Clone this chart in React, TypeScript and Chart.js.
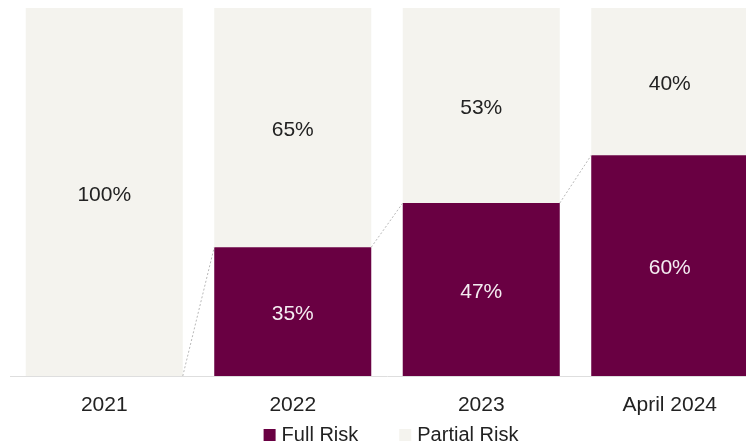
import React, { useEffect, useRef } from "react";
import { Chart, registerables } from "chart.js";

Chart.register(...registerables);

const categories = ["2021", "2022", "2023", "April 2024"];
const fullRisk = [0, 35, 47, 60];
const partialRisk = [100, 65, 53, 40];
const seriesNames = ["Full Risk", "Partial Risk"];

const PURPLE = "#690042";
const LIGHT = "#f4f3ee";
const FONT = "'Liberation Sans', Arial, sans-serif";

const labelPlugin = {
  id: "segLabels",
  afterDatasetsDraw(chart: any) {
    const ctx = chart.ctx;
    ctx.save();
    // dotted connectors between consecutive Full Risk tops
    const m0 = chart.getDatasetMeta(0);
    ctx.strokeStyle = "#b8b8b8";
    ctx.lineWidth = 1;
    ctx.setLineDash([2, 2]);
    for (let i = 0; i < m0.data.length - 1; i++) {
      const a = m0.data[i];
      const b = m0.data[i + 1];
      ctx.beginPath();
      ctx.moveTo(a.x + a.width / 2, a.y);
      ctx.lineTo(b.x - b.width / 2, b.y);
      ctx.stroke();
    }
    ctx.setLineDash([]);
    ctx.font = `21px ${FONT}`;
    ctx.textAlign = "center";
    ctx.textBaseline = "middle";
    chart.data.datasets.forEach((ds: any, di: number) => {
      const meta = chart.getDatasetMeta(di);
      meta.data.forEach((el: any, i: number) => {
        const v = ds.data[i];
        if (!v) return;
        ctx.fillStyle = di === 0 ? "#f4ecf1" : "#222222";
        ctx.fillText(`${v}%`, el.x, (el.y + el.base) / 2 + 3);
      });
    });
    ctx.restore();
  },
  afterDraw(chart: any) {
    const ctx = chart.ctx;
    ctx.save();
    ctx.font = `20px ${FONT}`;
    ctx.textBaseline = "middle";
    ctx.textAlign = "left";
    const box = 12;
    const gapBoxText = 6;
    const gapItems = 41;
    const colors = chart.data.datasets.map((d: any) => d.backgroundColor);
    const widths = seriesNames.map((n) => box + gapBoxText + ctx.measureText(n).width);
    const total = widths.reduce((s, w) => s + w, 0) + gapItems * (seriesNames.length - 1);
    const center = (chart.chartArea.left + chart.chartArea.right) / 2 + 4;
    let x = center - total / 2;
    const y = 435;
    seriesNames.forEach((n, i) => {
      ctx.fillStyle = colors[i];
      ctx.fillRect(x, y - box / 2, box, box);
      ctx.fillStyle = "#222222";
      ctx.fillText(n, x + box + gapBoxText, y);
      x += widths[i] + gapItems;
    });
    ctx.restore();
  },
};

export default function App() {
  const ref = useRef<HTMLCanvasElement>(null);
  useEffect(() => {
    if (!ref.current) return;
    const chart = new Chart(ref.current, {
      type: "bar",
      data: {
        labels: categories,
        datasets: [
          { label: seriesNames[0], data: fullRisk, backgroundColor: PURPLE, borderWidth: 0 },
          { label: seriesNames[1], data: partialRisk, backgroundColor: LIGHT, borderWidth: 0 },
        ],
      },
      options: {
        responsive: false,
        animation: false,
        layout: { padding: { left: 10, right: 0, top: 8, bottom: 0 } },
        datasets: { bar: { categoryPercentage: 1, barPercentage: 0.833 } },
        scales: {
          x: {
            stacked: true,
            grid: { display: false },
            border: { display: true, color: "#dedede" },
            ticks: { color: "#222", font: { family: FONT, size: 21 }, padding: 9 },
            afterFit(scale: any) {
              scale.height = 72;
            },
          },
          y: { stacked: true, display: false, min: 0, max: 100 },
        },
        plugins: {
          legend: { display: false },
          tooltip: { enabled: false },
        },
      },
      plugins: [labelPlugin],
    });
    return () => chart.destroy();
  }, []);
  return (
    <div style={{ position: "absolute", left: 0, top: 0, width: 746, height: 448, overflow: "hidden", background: "#fff" }}>
      <canvas ref={ref} width={764} height={448} style={{ display: "block" }} />
    </div>
  );
}
